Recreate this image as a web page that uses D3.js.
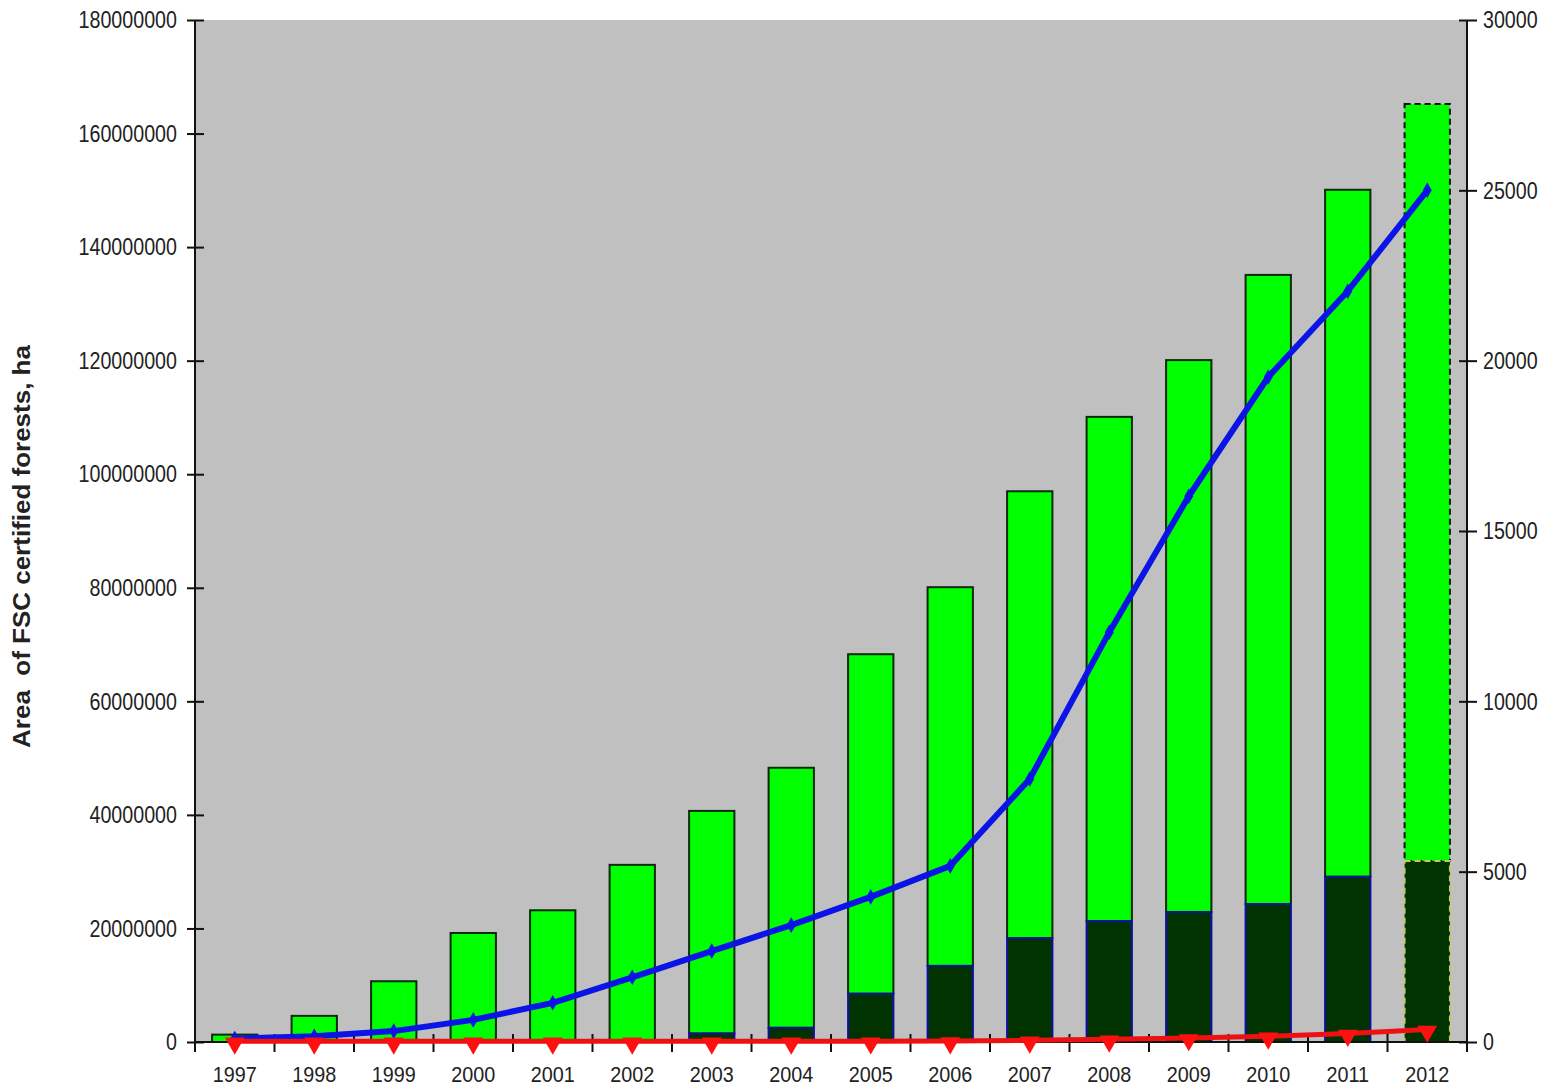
<!DOCTYPE html>
<html><head><meta charset="utf-8">
<script src="https://cdn.jsdelivr.net/npm/d3@7"></script>
<style>
body{margin:0;background:#fff;}
svg text{font-family:"Liberation Sans",Arial,sans-serif;fill:#222;}
</style></head><body>
<svg id="c" width="1545" height="1088"></svg>
<script>
const years = ['1997','1998','1999','2000','2001','2002','2003','2004','2005','2006','2007','2008','2009','2010','2011','2012'];
const areaTotal = [1300000,4600000,10700000,19200000,23200000,31200000,40700000,48300000,68300000,80100000,97000000,110100000,120100000,135100000,150100000,165200000];
const areaDark  = [0,0,0,0,0,300000,1500000,2500000,8500000,13400000,18300000,21300000,22900000,24300000,29100000,31900000];
const blueSeries = [100,170,320,650,1150,1900,2670,3430,4260,5170,7720,12030,16020,19520,22040,25000];
const redSeries  = [20,20,20,20,20,20,20,20,25,30,50,80,120,170,250,370];
const leftTicks = [0,20000000,40000000,60000000,80000000,100000000,120000000,140000000,160000000,180000000];
const rightTicks = [0,5000,10000,15000,20000,25000,30000];
const yLabel = 'Area  of FSC certified forests, ha';

const svg = d3.select('#c');
const L = 195, R = 1467, T = 20, B = 1042;
const x = d3.scaleBand().domain(years).range([L, R]).paddingInner(0.43).paddingOuter(0.215);
const xb = d3.scaleBand().domain(years).range([L, R]);
const yL = d3.scaleLinear().domain([0, 180000000]).range([B, T]);
const yR = d3.scaleLinear().domain([0, 30000]).range([B, T]);
const narrow = (sel, xPos, fs, sx) => sel.attr('font-size', fs)
  .attr('x', xPos / sx)
  .attr('transform', `scale(${sx},1)`);

svg.append('rect').attr('x', L).attr('y', T).attr('width', R - L).attr('height', B - T).attr('fill', '#c0c0c0');

const n = years.length;
svg.append('g').selectAll('rect').data(years).join('rect')
  .attr('x', d => x(d)).attr('width', x.bandwidth())
  .attr('y', (d, i) => yL(areaTotal[i]))
  .attr('height', (d, i) => yL(areaDark[i]) - yL(areaTotal[i]))
  .attr('fill', '#00ff00')
  .attr('stroke', (d, i) => i === n - 1 ? '#111' : '#0a2a0a')
  .attr('stroke-width', 2)
  .attr('stroke-dasharray', (d, i) => i === n - 1 ? '6,4' : null);
svg.append('g').selectAll('rect').data(years).join('rect')
  .attr('x', d => x(d)).attr('width', x.bandwidth())
  .attr('y', (d, i) => yL(areaDark[i]))
  .attr('height', (d, i) => yL(0) - yL(areaDark[i]))
  .attr('fill', '#003300')
  .attr('stroke', (d, i) => i === n - 1 ? '#c8c860' : '#1010a0')
  .attr('stroke-width', (d, i) => areaDark[i] > 0 ? 2 : 0)
  .attr('stroke-dasharray', (d, i) => i === n - 1 ? '6,4' : null);

const axL = svg.append('g').attr('transform', `translate(${L},0)`)
  .call(d3.axisLeft(yL).tickValues(leftTicks).tickFormat(d3.format('d')).tickSize(8).tickPadding(8));
axL.selectAll('.tick line').attr('x2', -8).attr('x1', 9).attr('stroke', '#111').attr('stroke-width', 2);
axL.select('.domain').attr('d', `M0,${T}V${B + 10}`).attr('stroke', '#111').attr('stroke-width', 2);
axL.selectAll('text').call(narrow, -18, 24, 0.82);

const axR = svg.append('g').attr('transform', `translate(${R},0)`)
  .call(d3.axisRight(yR).tickValues(rightTicks).tickFormat(d3.format('d')).tickSize(10).tickPadding(6));
axR.selectAll('.tick line').attr('x1', -8).attr('x2', 10).attr('stroke', '#111').attr('stroke-width', 2);
axR.select('.domain').attr('d', `M0,${T}V${B + 10}`).attr('stroke', '#111').attr('stroke-width', 2);
axR.selectAll('text').call(narrow, 16, 24, 0.82);

const axB = svg.append('g').attr('transform', `translate(0,${B})`)
  .call(d3.axisBottom(x).tickSize(0).tickPadding(24));
axB.select('.domain').attr('d', `M${L},0H${R}`).attr('stroke', '#111').attr('stroke-width', 2);
axB.selectAll('text').call(narrow, 0, 22, 0.9);
svg.append('g').selectAll('line').data(years.slice(1)).join('line')
  .attr('x1', d => xb(d)).attr('x2', d => xb(d))
  .attr('y1', B - 8).attr('y2', B + 10).attr('stroke', '#111').attr('stroke-width', 2);

const cx = i => xb(years[i]) + xb.bandwidth() / 2;
const lineB = d3.line().x((d, i) => cx(i)).y(d => yR(d));
svg.append('path').datum(blueSeries).attr('d', lineB).attr('fill', 'none')
  .attr('stroke', '#0a14e6').attr('stroke-width', 6).attr('stroke-linejoin', 'round');
svg.append('g').selectAll('path').data(blueSeries).join('path')
  .attr('transform', (d, i) => `translate(${cx(i)},${yR(d)})`)
  .attr('d', d3.symbol(d3.symbolDiamond, 70))
  .attr('fill', '#0a14e6');

const lineR = d3.line().x((d, i) => cx(i)).y(d => yR(d));
svg.append('path').datum(redSeries).attr('d', lineR).attr('fill', 'none')
  .attr('stroke', '#ee1111').attr('stroke-width', 5);
svg.append('g').selectAll('path').data(redSeries).join('path')
  .attr('transform', (d, i) => `translate(${cx(i)},${yR(d) + 2}) rotate(180)`)
  .attr('d', d3.symbol(d3.symbolTriangle, 170))
  .attr('fill', '#ff1010');

const lab = svg.append('text')
  .attr('text-anchor', 'middle').attr('font-size', 23).attr('font-weight', 'bold')
  .attr('xml:space', 'preserve').text(yLabel);
const len = lab.node().getComputedTextLength();
lab.attr('transform', `translate(30,${(345 + 748) / 2}) rotate(-90) scale(${403 / len},1)`);
</script></body></html>
